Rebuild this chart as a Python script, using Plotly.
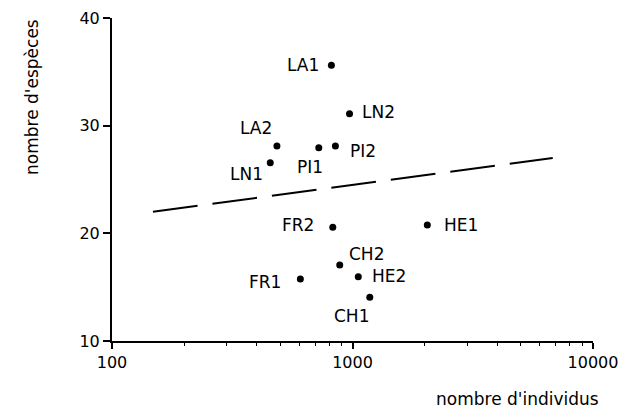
import math
import plotly.graph_objects as go

# Data
sites = ["LA1", "LN2", "LA2", "PI1", "PI2", "LN1", "FR2", "HE1", "CH2", "FR1", "HE2", "CH1"]
individus = [817, 972, 485, 724, 849, 455, 828, 2047, 885, 607, 1057, 1180]
especes = [35.6, 31.1, 28.1, 27.95, 28.1, 26.55, 20.56, 20.77, 17.06, 15.76, 15.97, 14.06]

# regression line endpoints
line_x = [148, 6800]
line_y = [22.0, 27.0]

x_ticks = [100, 1000, 10000]
x_ticklabels = ["100", "1000", "10000"]
y_ticks = [10, 20, 30, 40]
y_ticklabels = ["10", "20", "30", "40"]

# label placement: (xanchor, xshift, yshift)
label_pos = {
    "LA1": ("right", -10, 0),
    "LN2": ("left", 10, 2),
    "LA2": ("right", -3, 18),
    "PI1": ("center", -9, -19),
    "PI2": ("left", 13, -5),
    "LN1": ("right", -5, -11),
    "FR2": ("right", -17, 2),
    "HE1": ("left", 15, 0),
    "CH2": ("left", 7, 11),
    "FR1": ("right", -17, -3),
    "HE2": ("left", 12, 1),
    "CH1": ("center", -18, -19),
}

FONT = "DejaVu Sans, Liberation Sans, Arial, sans-serif"
FS = 17
TFS = 16

W, H = 620, 411
ml, mt = 112, 18
mr, mb = 620 - 593, 411 - 341
pw, ph = W - ml - mr, H - mt - mb

fig = go.Figure()
fig.add_trace(go.Scatter(
    x=line_x, y=line_y, mode="lines",
    line=dict(color="black", width=2, dash="45px,15px"),
    hoverinfo="skip", showlegend=False,
))
fig.add_trace(go.Scatter(
    x=individus, y=especes, mode="markers",
    marker=dict(color="black", size=7),
    text=sites, showlegend=False, hoverinfo="skip",
))

annotations = []
for s, xv, yv in zip(sites, individus, especes):
    xa, xs, ys = label_pos[s]
    annotations.append(dict(
        x=math.log10(xv), y=yv, xref="x", yref="y", text=s, showarrow=False,
        xanchor=xa, yanchor="middle", xshift=xs, yshift=ys,
        font=dict(family=FONT, size=FS, color="black"),
    ))


def page_to_paper(px, py):
    return ((px - ml) / pw, 1 - (py - mt) / ph)


tx, ty = page_to_paper(517, 399)
annotations.append(dict(
    x=tx, y=ty, xref="paper", yref="paper", text="nombre d'individus",
    showarrow=False, xanchor="center", yanchor="middle",
    font=dict(family=FONT, size=FS, color="black"),
))
tx, ty = page_to_paper(32, 97)
annotations.append(dict(
    x=tx, y=ty, xref="paper", yref="paper", text="nombre d'espèces",
    showarrow=False, textangle=-90, xanchor="center", yanchor="middle",
    font=dict(family=FONT, size=FS, color="black"),
))

fig.update_layout(
    width=W, height=H,
    margin=dict(l=ml, r=mr, t=mt, b=mb, pad=0, autoexpand=False),
    paper_bgcolor="white", plot_bgcolor="white",
    font=dict(family=FONT, size=FS, color="black"),
    annotations=annotations,
    hovermode=False,
    xaxis=dict(
        type="log", range=[2, 4], automargin=False,
        tickvals=x_ticks, ticktext=x_ticklabels,
        ticks="outside", ticklen=6, tickwidth=2, tickcolor="black",
        showline=True, linecolor="black", linewidth=2,
        showgrid=False, zeroline=False, ticklabeloverflow="allow",
        minor=dict(ticks="outside", ticklen=3, tickwidth=1, tickcolor="black",
                   showgrid=False, dtick="D1"),
        tickfont=dict(family=FONT, size=TFS, color="black"),
    ),
    yaxis=dict(
        range=[10, 40], automargin=False,
        tickvals=y_ticks, ticktext=y_ticklabels,
        ticks="outside", ticklen=7, tickwidth=2, tickcolor="black",
        showline=True, linecolor="black", linewidth=2,
        showgrid=False, zeroline=False, ticklabeloverflow="allow",
        tickfont=dict(family=FONT, size=TFS, color="black"),
    ),
)

fig.write_html(
    "out.html",
    config={"displayModeBar": False, "staticPlot": True},
    post_script="document.body.style.margin='0';document.body.style.overflow='hidden';",
)
